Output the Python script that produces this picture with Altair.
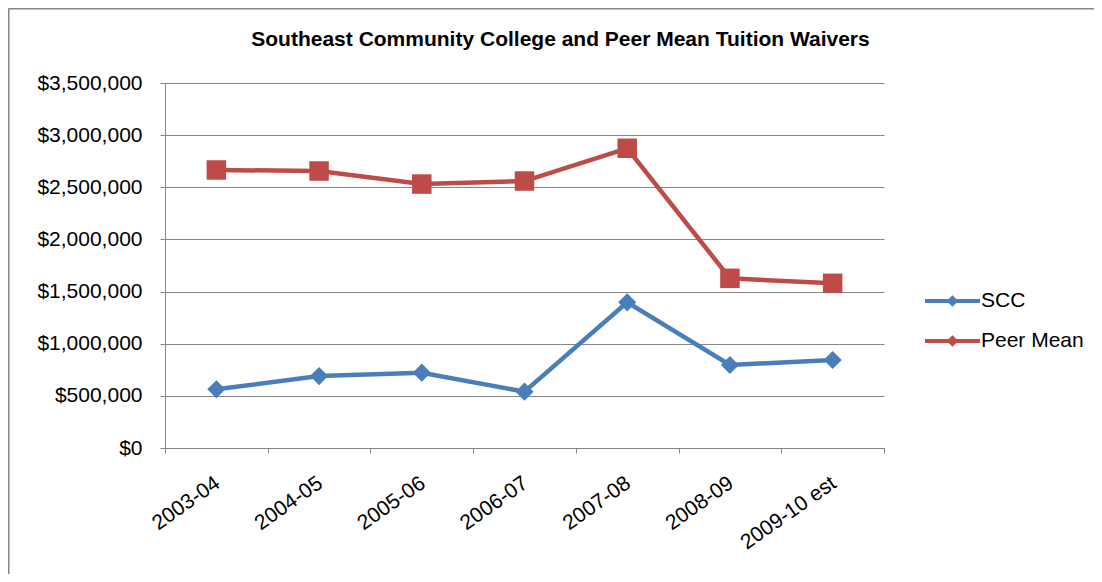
import altair as alt
import pandas as pd

years = ["2003-04", "2004-05", "2005-06", "2006-07", "2007-08", "2008-09", "2009-10 est"]
scc = [563000, 690000, 722000, 540000, 1397000, 796000, 844000]
peer_mean = [2666000, 2656000, 2531000, 2560000, 2874000, 1627000, 1579000]
series = ["SCC", "Peer Mean"]
colors = ["#4A7EBB", "#BE4B48"]
shapes = ["diamond", "square"]
legend_symbol = "M-2.75,0H2.75M-0.3,0L0,-0.3L0.3,0L0,0.3Z"
y_ticks = [0, 500000, 1000000, 1500000, 2000000, 2500000, 3000000, 3500000]

rows = []
for yr, a, b in zip(years, scc, peer_mean):
    rows.append({"year": yr, "series": "SCC", "value": a})
    rows.append({"year": yr, "series": "Peer Mean", "value": b})
df = pd.DataFrame(rows)

FONT = "Liberation Sans"
GRAY = "#868686"

x_enc = alt.X(
    "year:N",
    sort=years,
    scale=alt.Scale(type="band", paddingInner=0, paddingOuter=0),
    axis=alt.Axis(
        title=None, tickBand="extent", labelAngle=-35, labelAlign="right",
        labelBaseline="middle", labelFont=FONT, labelFontSize=21,
        labelColor="black", domainColor=GRAY, tickColor=GRAY,
        tickSize=5, grid=False, labelPadding=28, labelOffset=1,
    ),
)
y_enc = alt.Y(
    "value:Q",
    scale=alt.Scale(domain=[0, 3500000], nice=False),
    axis=alt.Axis(
        title=None, values=y_ticks, format="$,.0f", labelFont=FONT,
        labelFontSize=21, labelColor="black", domainColor=GRAY, tickColor=GRAY,
        gridColor=GRAY, gridWidth=1.2, tickSize=5, labelPadding=18,
    ),
)
color_scale = alt.Scale(domain=series, range=colors)

lines = alt.Chart(df).mark_line(strokeWidth=4.5).encode(
    x=x_enc,
    y=y_enc,
    color=alt.Color("series:N", scale=color_scale, legend=alt.Legend(
        title=None, orient="none", legendX=775.5, legendY=206,
        labelFont=FONT, labelFontSize=21, labelColor="black",
        symbolType=legend_symbol, symbolSize=400, symbolStrokeWidth=4,
        labelOffset=16.5, rowPadding=17,
    )),
)

point_layers = []
for name, col, shp, sz in zip(series, colors, shapes, [330, 380]):
    point_layers.append(
        alt.Chart(df).transform_filter(alt.datum.series == name)
        .mark_point(filled=True, opacity=1, shape=shp, size=sz, color=col)
        .encode(x=x_enc, y=y_enc)
    )

border_src = pd.DataFrame({"f": [0]})
top_border = alt.Chart(border_src).mark_rule(color=GRAY, strokeWidth=2).encode(
    x=alt.value(-156.5), x2=alt.value(1000), y=alt.value(-74.5)
)
left_border = alt.Chart(border_src).mark_rule(color=GRAY, strokeWidth=2).encode(
    x=alt.value(-156.5), y=alt.value(-74.5), y2=alt.value(600)
)

chart = alt.layer(top_border, left_border, lines, *point_layers).properties(
    width=719,
    height=365,
    padding={"left": 157, "top": 75, "right": 210, "bottom": 126},
    autosize=alt.AutoSizeParams(type="none"),
    background="white",
    title=alt.TitleParams(
        "Southeast Community College and Peer Mean Tuition Waivers",
        font=FONT, fontSize=21, fontWeight="bold", color="black",
        anchor="middle", frame="group", dx=36, offset=0, dy=42,
    ),
).configure_view(strokeWidth=0)

chart.save("out.html", embed_options={"renderer": "svg", "actions": False})
